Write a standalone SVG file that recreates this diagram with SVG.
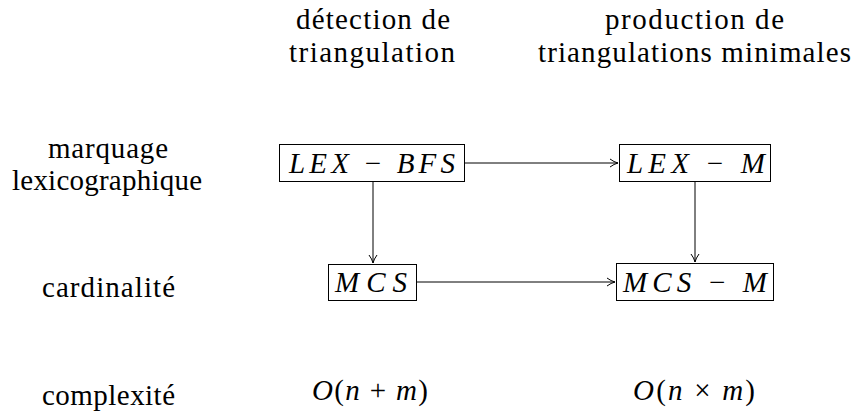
<svg xmlns="http://www.w3.org/2000/svg" width="854" height="412" viewBox="0 0 854 412">
<style>
  text { font-family: "Liberation Serif", "Times New Roman", "DejaVu Serif", serif; font-size: 29px; fill: #000; text-anchor: middle; }
  .m { font-style: italic; }
  .op { font-style: normal; }
  .box { fill: #fff; stroke: #000; stroke-width: 1; }
  .edge { fill: none; stroke: #000; stroke-width: 1; marker-end: url(#arr); }
</style>
<defs>
  <marker id="arr" markerUnits="userSpaceOnUse" markerWidth="12" markerHeight="12" refX="9" refY="5" orient="auto">
    <path d="M1,1 Q5,4 9,5 Q5,6 1,9" fill="none" stroke="#000" stroke-width="1"/>
  </marker>
</defs>
<rect width="854" height="412" fill="#fff"/>

<g id="headers">
  <text x="373" y="29" textLength="154" lengthAdjust="spacing">détection de</text>
  <text x="372" y="62" textLength="166" lengthAdjust="spacing">triangulation</text>
  <text x="694.5" y="29" textLength="179" lengthAdjust="spacing">production de</text>
  <text x="694.5" y="62" textLength="313" lengthAdjust="spacing">triangulations minimales</text>
</g>

<g id="rowlabels">
  <text x="108" y="158" textLength="120" lengthAdjust="spacing">marquage</text>
  <text x="107" y="190" textLength="190" lengthAdjust="spacing">lexicographique</text>
  <text x="108.5" y="297" textLength="133" lengthAdjust="spacing">cardinalité</text>
  <text x="108.5" y="405" textLength="133" lengthAdjust="spacing">complexité</text>
</g>

<g id="connectors">
  <line class="edge" x1="465" y1="163" x2="618" y2="163"/>
  <line class="edge" x1="417" y1="282" x2="615" y2="282"/>
  <line class="edge" x1="373" y1="182" x2="373" y2="263"/>
  <line class="edge" x1="695" y1="182" x2="695" y2="262"/>
</g>

<g id="lexbfs">
  <rect class="box" x="279.5" y="144.5" width="185" height="37"/>
  <text class="m" x="372" y="173" textLength="166" lengthAdjust="spacing">LEX <tspan class="op">−</tspan> BFS</text>
</g>
<g id="lexm">
  <rect class="box" x="619.5" y="144.5" width="151" height="37"/>
  <text class="m" x="696" y="173" textLength="138" lengthAdjust="spacing">LEX <tspan class="op">−</tspan> M</text>
</g>
<g id="mcs">
  <rect class="box" x="328.5" y="264.5" width="88" height="36"/>
  <text class="m" x="371" y="292" textLength="72" lengthAdjust="spacing">MCS</text>
</g>
<g id="mcsm">
  <rect class="box" x="616.5" y="263.5" width="157" height="37"/>
  <text class="m" x="695" y="292" textLength="144" lengthAdjust="spacing">MCS <tspan class="op">−</tspan> M</text>
</g>

<g id="complexities">
  <text x="370" y="400" textLength="116" lengthAdjust="spacing"><tspan class="m">O</tspan>(<tspan class="m">n</tspan> + <tspan class="m">m</tspan>)</text>
  <text x="694" y="400" textLength="122" lengthAdjust="spacing"><tspan class="m">O</tspan>(<tspan class="m">n</tspan> × <tspan class="m">m</tspan>)</text>
</g>
</svg>
